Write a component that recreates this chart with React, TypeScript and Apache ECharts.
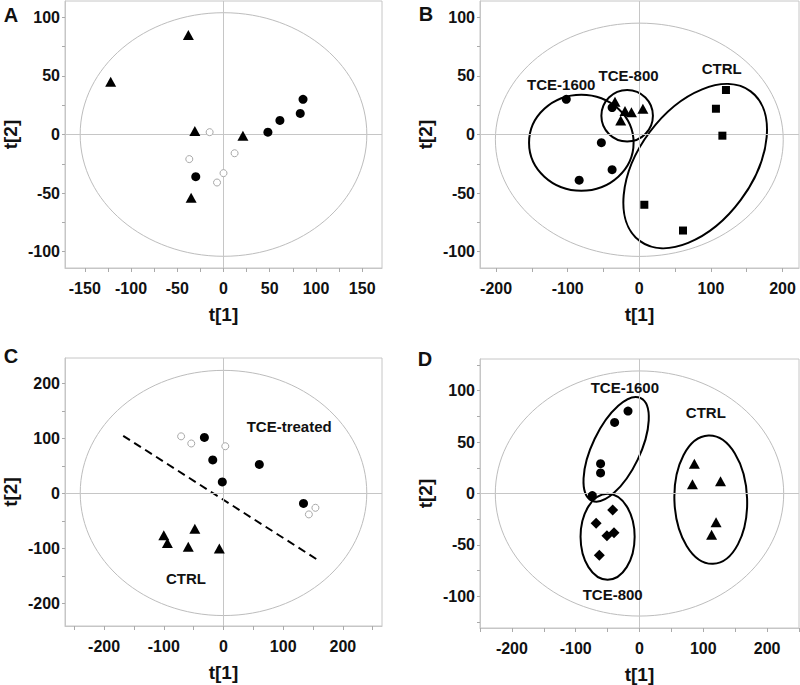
import React, { useEffect, useRef } from "react";
import * as echarts from "echarts";

// ---------- Panel A ----------
const aTriangles = [[-38, 85], [-122, 45], [-31, 3], [21, -1], [-35, -54]];
const aFilled = [[48, 2], [61, 12], [83, 18], [86, 30], [-30, -36]];
const aOpen = [[-15, 2], [-37, -21], [12, -16], [0, -33], [-7, -41]];
const aHotelling = [[0, 0, 155, 104, 0]];
const aXTicks = [-150, -125, -100, -75, -50, -25, 0, 25, 50, 75, 100, 125, 150];
const aXLabels = [-150, -100, -50, 0, 50, 100, 150];
const aYTicks = [-100, -75, -50, -25, 0, 25, 50, 75, 100];
const aYLabels = [-100, -50, 0, 50, 100];

// ---------- Panel B ----------
const bCircles = [[-102, 30], [-38, 23], [-53, -7], [-38, -30], [-84, -39]];
const bTriangles = [[-34, 28], [-26, 12], [-20, 20], [-11, 19], [5, 22]];
const bSquares = [[121, 38], [107, 22], [116, -1], [7, -60], [61, -82]];
const bHotelling = [[0, -4.5, 201, 99.6, 0]];
// [centre x, centre y, radius x, radius y, rotation in degrees]
const bGroups = [[-81, -7, 73, 41, 0], [-17, 16, 36, 22, 0], [78, -27, 130, 48.5, 53.4]];
const bLabels = [
  { name: "TCE-1600", value: [-109, 43] },
  { name: "TCE-800", value: [-15, 50] },
  { name: "CTRL", value: [115, 56] },
];
const bXTicks = [-200, -150, -100, -50, 0, 50, 100, 150, 200];
const bXLabels = [-200, -100, 0, 100, 200];
const bYTicks = [-100, -75, -50, -25, 0, 25, 50, 75, 100];
const bYLabels = [-100, -50, 0, 50, 100];

// ---------- Panel C ----------
const cFilled = [[-32, 102], [-18, 61], [-2, 21], [60, 53], [134, -18]];
const cOpen = [[-71, 104], [-54, 91], [3, 86], [143, -38], [154, -26]];
const cTriangles = [[-100, -76], [-94, -90], [-48, -64], [-59, -97], [-7, -100]];
const cDivider = [[-168, 105], [158, -121]];
const cHotelling = [[0, 1, 240, 223, 0]];
const cLabels = [
  { name: "TCE-treated", value: [110, 121] },
  { name: "CTRL", value: [-63, -155] },
];
const cXTicks = [-250, -200, -150, -100, -50, 0, 50, 100, 150, 200, 250];
const cXLabels = [-200, -100, 0, 100, 200];
const cYTicks = [-200, -150, -100, -50, 0, 50, 100, 150, 200];
const cYLabels = [-200, -100, 0, 100, 200];

// ---------- Panel D ----------
const dCircles = [[-18, 80], [-39, 69], [-61, 29], [-61, 20], [-74, -2]];
const dDiamonds = [[-42, -16], [-68, -29], [-40, -38], [-51, -41], [-63, -60]];
const dTriangles = [[86, 29], [83, 9], [127, 12], [120, -28], [113, -40]];
const dHotelling = [[0, 0, 226, 119, 0]];
const dGroups = [[-36.6, 42.9, 89, 23.2, 64.4], [-50, -42, 42.4, 41.7, 0], [111.7, -6, 57, 62.3, 2]];
const dLabels = [
  { name: "TCE-1600", value: [-23, 103] },
  { name: "TCE-800", value: [-42, -98] },
  { name: "CTRL", value: [104, 79] },
];
const dXTicks = [-250, -200, -150, -100, -50, 0, 50, 100, 150, 200, 250];
const dXLabels = [-200, -100, 0, 100, 200];
const dYTicks = [-125, -100, -75, -50, -25, 0, 25, 50, 75, 100, 125];
const dYLabels = [-100, -50, 0, 50, 100];

const FONT = '"Liberation Sans", Arial, Helvetica, sans-serif';
const GRAY_LINE = "#c6c6c6";
const GRAY_ELLIPSE = "#bdbdbd";
const INK = "#000";

function ellipseSeries(gi: number, data: number[][], stroke: string, width: number, z: number) {
  return {
    type: "custom",
    xAxisIndex: gi,
    yAxisIndex: gi,
    z,
    silent: true,
    dimensions: ["x", "y", "rx", "ry", "rot"],
    encode: { x: 0, y: 1 },
    data,
    renderItem: (params: any, api: any) => {
      const c = api.coord([api.value(0), api.value(1)]);
      const sx = Math.abs(api.size([api.value(2), 0])[0]);
      const sy = Math.abs(api.size([0, api.value(3)])[1]);
      return {
        type: "ellipse",
        x: c[0],
        y: c[1],
        rotation: (api.value(4) * Math.PI) / 180,
        shape: { cx: 0, cy: 0, rx: sx, ry: sy },
        style: { fill: "none", stroke, lineWidth: width },
      };
    },
  };
}

function crossSeries(gi: number) {
  return {
    type: "scatter",
    xAxisIndex: gi,
    yAxisIndex: gi,
    z: 1,
    data: [],
    silent: true,
    markLine: {
      silent: true,
      symbol: ["none", "none"],
      label: { show: false },
      lineStyle: { color: GRAY_LINE, width: 1, type: "solid" },
      data: [{ xAxis: 0 }, { yAxis: 0 }],
    },
  };
}

function pointSeries(gi: number, data: number[][], symbol: string, size: any, open = false) {
  return {
    type: "scatter",
    xAxisIndex: gi,
    yAxisIndex: gi,
    z: 5,
    silent: true,
    symbol,
    symbolSize: size,
    data,
    itemStyle: open
      ? { color: "#fff", borderColor: "#a8a8a8", borderWidth: 1, opacity: 1 }
      : { color: INK, opacity: 1 },
  };
}

function labelSeries(gi: number, data: any[]) {
  return {
    type: "scatter",
    xAxisIndex: gi,
    yAxisIndex: gi,
    z: 6,
    silent: true,
    symbolSize: 1,
    itemStyle: { color: "transparent", opacity: 1 },
    data,
    label: {
      show: true,
      position: "inside",
      formatter: "{b}",
      color: "#111",
      opacity: 1,
      textBorderWidth: 0,
      fontFamily: FONT,
      fontWeight: "bold",
      fontSize: 15,
    },
  };
}

function xAxis(gi: number, min: number, max: number, ticks: number[], labels: number[]) {
  return {
    type: "value",
    gridIndex: gi,
    min,
    max,
    name: "t[1]",
    nameLocation: "middle",
    nameGap: 37,
    nameTextStyle: { fontFamily: FONT, fontWeight: "bold", fontSize: 19, color: "#111" },
    axisLine: { show: true, onZero: false, lineStyle: { color: GRAY_LINE } },
    axisTick: { show: true, inside: false, length: 4, customValues: ticks, lineStyle: { color: "#aaa" } },
    axisLabel: { customValues: labels, margin: 12, fontFamily: FONT, fontWeight: "bold", fontSize: 16, color: "#111" },
    splitLine: { show: false },
  };
}

function yAxis(gi: number, min: number, max: number, ticks: number[], labels: number[]) {
  return {
    type: "value",
    gridIndex: gi,
    min,
    max,
    name: "t[2]",
    nameLocation: "middle",
    nameRotate: 90,
    nameGap: 45,
    nameTextStyle: { fontFamily: FONT, fontWeight: "bold", fontSize: 19, color: "#111" },
    axisLine: { show: true, onZero: false, lineStyle: { color: GRAY_LINE } },
    axisTick: { show: true, inside: false, length: 3, customValues: ticks, lineStyle: { color: "#aaa" } },
    axisLabel: { customValues: labels, margin: 5, fontFamily: FONT, fontWeight: "bold", fontSize: 16, color: "#111" },
    splitLine: { show: false },
  };
}

function letter(text: string, x: number, y: number) {
  return {
    type: "text",
    x,
    y,
    style: {
      text,
      fill: "#111",
      font: `bold 20px ${FONT}`,
      textAlign: "center",
      textVerticalAlign: "middle",
    },
  };
}

export default function App() {
  const ref = useRef<HTMLDivElement>(null);
  useEffect(() => {
    if (!ref.current) return;
    const chart = echarts.init(ref.current, null, { renderer: "svg" });
    const gridStyle = { show: true, borderColor: GRAY_LINE, borderWidth: 1, backgroundColor: "#fff" };
    chart.setOption({
      animation: false,
      backgroundColor: "#fff",
      grid: [
        { left: 62, top: 1, width: 320, height: 267, ...gridStyle },
        { left: 480, top: 1, width: 319, height: 267, ...gridStyle },
        { left: 62, top: 358, width: 320, height: 268, ...gridStyle },
        { left: 480, top: 359, width: 319, height: 269, ...gridStyle },
      ],
      xAxis: [
        xAxis(0, -171.4, 171.4, aXTicks, aXLabels),
        xAxis(1, -222.5, 223, bXTicks, bXLabels),
        xAxis(2, -265.5, 265.5, cXTicks, cXLabels),
        xAxis(3, -250, 250, dXTicks, dXLabels),
      ],
      yAxis: [
        yAxis(0, -114, 114, aYTicks, aYLabels),
        yAxis(1, -114, 114, bYTicks, bYLabels),
        yAxis(2, -241, 246.5, cYTicks, cYLabels),
        yAxis(3, -130.6, 130.6, dYTicks, dYLabels),
      ],
      graphic: [letter("A", 11, 15), letter("B", 426, 14), letter("C", 11, 356), letter("D", 425, 359)],
      series: [
        // A
        crossSeries(0),
        ellipseSeries(0, aHotelling, GRAY_ELLIPSE, 1, 2),
        pointSeries(0, aOpen, "circle", 7, true),
        pointSeries(0, aFilled, "circle", 9),
        pointSeries(0, aTriangles, "triangle", [11, 10]),
        // B
        crossSeries(1),
        ellipseSeries(1, bHotelling, GRAY_ELLIPSE, 1, 2),
        ellipseSeries(1, bGroups, INK, 2, 3),
        pointSeries(1, bCircles, "circle", 9),
        pointSeries(1, bTriangles, "triangle", [11, 10]),
        pointSeries(1, bSquares, "rect", 8),
        labelSeries(1, bLabels),
        // C
        crossSeries(2),
        ellipseSeries(2, cHotelling, GRAY_ELLIPSE, 1, 2),
        {
          type: "line",
          xAxisIndex: 2,
          yAxisIndex: 2,
          z: 4,
          silent: true,
          symbol: "none",
          data: cDivider,
          lineStyle: { color: INK, width: 2, type: [8, 5] },
        },
        pointSeries(2, cOpen, "circle", 7, true),
        pointSeries(2, cFilled, "circle", 9),
        pointSeries(2, cTriangles, "triangle", [11, 10]),
        labelSeries(2, cLabels),
        // D
        crossSeries(3),
        ellipseSeries(3, dHotelling, GRAY_ELLIPSE, 1, 2),
        ellipseSeries(3, dGroups, INK, 2, 3),
        pointSeries(3, dCircles, "circle", 9),
        pointSeries(3, dDiamonds, "diamond", 11),
        pointSeries(3, dTriangles, "triangle", [11, 10]),
        labelSeries(3, dLabels),
      ],
    });
    return () => chart.dispose();
  }, []);
  return (
    <div
      ref={ref}
      style={{ position: "absolute", left: 0, top: 0, width: 800, height: 685, background: "#fff" }}
    />
  );
}
